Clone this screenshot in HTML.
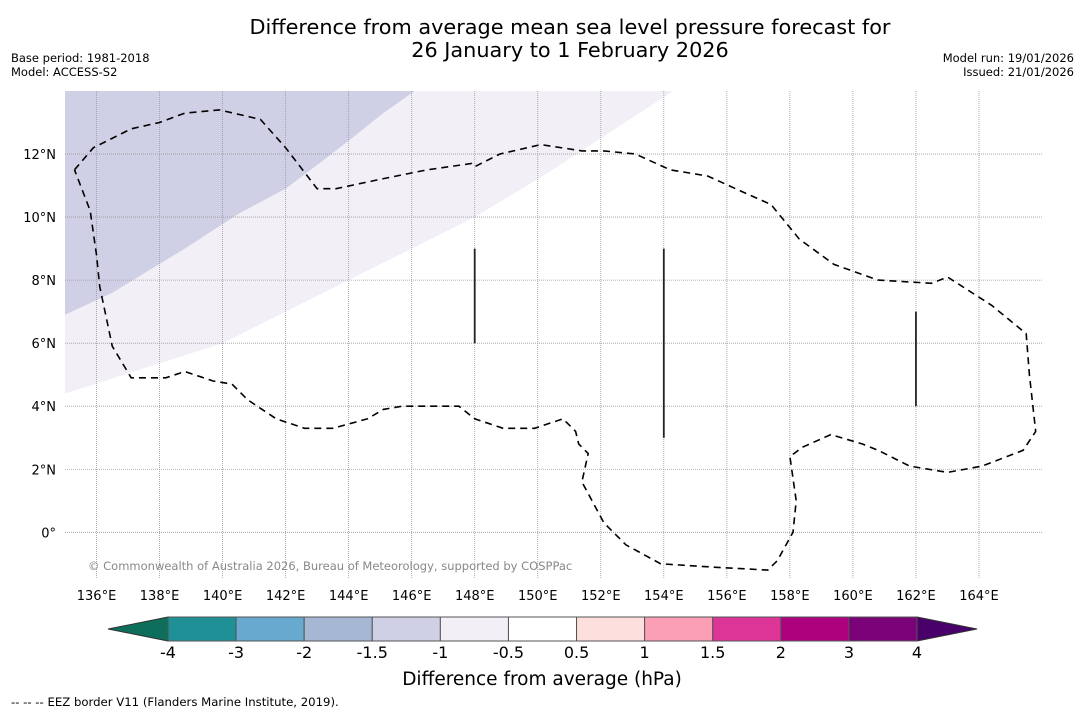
<!DOCTYPE html>
<html><head><meta charset="utf-8"><style>
body{margin:0;background:#fff;width:1085px;height:713px;overflow:hidden;font-family:"DejaVu Sans","Liberation Sans",sans-serif;}
svg text{font-family:"DejaVu Sans","Liberation Sans",sans-serif;}
</style></head><body>
<svg id="c" width="1085" height="713">
<text x="570" y="34" text-anchor="middle" font-size="20.8">Difference from average mean sea level pressure forecast for</text>
<text x="570" y="57" text-anchor="middle" font-size="20.8">26 January to 1 February 2026</text>
<text x="11" y="62" font-size="11.5">Base period: 1981-2018</text>
<text x="11" y="76" font-size="11.5">Model: ACCESS-S2</text>
<text x="1074" y="62" font-size="11.5" text-anchor="end">Model run: 19/01/2026</text>
<text x="1074" y="76" font-size="11.5" text-anchor="end">Issued: 21/01/2026</text>
<defs><clipPath id="mc"><rect x="65" y="91" width="977" height="487"/></clipPath></defs>
<g id="map" clip-path="url(#mc)"></g>
<g id="axes"></g>
<g id="cbar"></g>
<text x="542" y="685" text-anchor="middle" font-size="18.5">Difference from average (hPa)</text>
<text x="11" y="706" font-size="11.7">--  --  -- EEZ border V11 (Flanders Marine Institute, 2019).</text>
</svg>
<script>
const lonTicks=[136,138,140,142,144,146,148,150,152,154,156,158,160,162,164];
const latTicks=[0,2,4,6,8,10,12];
const levels=[-4,-3,-2,-1.5,-1,-0.5,0.5,1,1.5,2,3,4];
const levelLabels=["-4","-3","-2","-1.5","-1","-0.5","0.5","1","1.5","2","3","4"];
const binColors=["#1f9196","#67a9cf","#a6b7d3","#cfd0e5","#f3eff6","#ffffff","#fde0dd","#fa9fb5","#dd3497","#ae017e","#7a0177"];
const underColor="#0d6e5c", overColor="#49006a";
const anomDark=[[135,6.9],[136.5,7.6],[138.8,9.0],[140.5,10.1],[142,10.9],[143.2,11.8],[144.1,12.5],[145.1,13.3],[146.1,14]];
const anomLight=[[135,4.4],[137.5,5.2],[140,6.0],[142,7.0],[144,8.0],[146,9.0],[148,10.0],[150,11.2],[152,12.5],[154.3,14]];
const eez=[[135.3,11.5],[135.9,12.2],[137.1,12.8],[138,13],[138.8,13.3],[139.9,13.4],[141.2,13.1],[142,12.2],[143,10.9],[143.6,10.9],[145,11.2],[146.5,11.5],[147.9,11.7],[148,11.6],[148.8,12],[150.1,12.3],[151.4,12.1],[152.1,12.1],[153.1,12],[154.2,11.5],[155.4,11.3],[156.5,10.8],[157.4,10.4],[158.3,9.3],[159.4,8.5],[160.8,8],[162.5,7.9],[163,8.1],[164.4,7.2],[165.5,6.3],[165.6,5],[165.8,3.2],[165.4,2.6],[164.1,2.1],[163,1.9],[161.8,2.1],[160.8,2.6],[160.3,2.8],[159.3,3.1],[158.4,2.7],[158,2.4],[158.2,1],[158.1,0],[157.6,-0.9],[157.3,-1.2],[155.5,-1.1],[153.9,-1],[152.8,-0.4],[152.1,0.3],[151.4,1.6],[151.6,2.5],[151.3,2.8],[151.2,3.2],[150.8,3.6],[149.9,3.3],[148.9,3.3],[148,3.6],[147.5,4],[146.4,4.0],[145.7,4.0],[145.1,3.9],[144.6,3.6],[143.5,3.3],[142.6,3.3],[141.7,3.6],[140.8,4.2],[140.3,4.7],[139.7,4.8],[138.8,5.1],[138.2,4.9],[137.1,4.9],[136.5,5.9],[136.1,7.8],[136,8.8],[135.8,10.2],[135.3,11.5]];
const meridianSegs=[[148,6,9],[154,3,9],[162,4,7]];

const NS="http://www.w3.org/2000/svg";
const X0=65,X1=1042,Y0=91,Y1=578,LON0=135,LON1=166,LAT0=-1.45,LAT1=14;
function xs(l){return X0+(l-LON0)/(LON1-LON0)*(X1-X0);}
function ys(l){return Y1-(l-LAT0)/(LAT1-LAT0)*(Y1-Y0);}
function mk(t,a,p){const e=document.createElementNS(NS,t);for(const k in a)e.setAttribute(k,a[k]);p.appendChild(e);return e;}
const map=document.getElementById('map'),axes=document.getElementById('axes'),cb=document.getElementById('cbar');
function pts(a){return a.map(p=>xs(p[0]).toFixed(1)+','+ys(p[1]).toFixed(1)).join(' ');}
let p=mk('polygon',{points:pts(anomLight)+` ${xs(LON0)},${ys(LAT1)}`,fill:"#f3eff6"},map);


p=mk('polygon',{points:pts(anomDark)+` ${xs(LON0)},${ys(LAT1)}`,fill:"#cfd0e5"},map);


lonTicks.forEach(l=>{const g=mk('line',{x1:xs(l),x2:xs(l),y1:Y0,y2:Y1,stroke:"#999","stroke-width":0.8,"stroke-dasharray":"1,1"},map);


const t=mk('text',{x:xs(l),y:600,"text-anchor":"middle","font-size":13},axes);t.textContent=l+"°E";

});
latTicks.forEach(l=>{const g=mk('line',{x1:X0,x2:X1,y1:ys(l),y2:ys(l),stroke:"#999","stroke-width":0.8,"stroke-dasharray":"1,1"},map);


const t=mk('text',{x:56,y:ys(l)+5,"text-anchor":"end","font-size":13},axes);t.textContent=l===0?"0°":l+"°N";

});
p=mk('polyline',{points:pts(eez),fill:"none",stroke:"#000","stroke-width":1.6,"stroke-dasharray":"7,5"},map);


meridianSegs.forEach(s=>{const l=mk('line',{x1:xs(s[0]),x2:xs(s[0]),y1:ys(s[2]),y2:ys(s[1]),stroke:"#222","stroke-width":1.8},map);

});
const ct=mk('text',{x:88,y:570,"font-size":11.5,fill:"#888"},map);ct.textContent="© Commonwealth of Australia 2026, Bureau of Meteorology, supported by COSPPac";


const CB0=168,CB1=917,CY=617,CH=24;
const bw=(CB1-CB0)/(levels.length-1);
function cx(i){return CB0+i*bw;}
let tri=mk('polygon',{points:`108,${CY+CH/2} ${CB0},${CY} ${CB0},${CY+CH}`,fill:underColor,stroke:"#333","stroke-width":1},cb);


tri=mk('polygon',{points:`977,${CY+CH/2} ${CB1},${CY} ${CB1},${CY+CH}`,fill:overColor,stroke:"#333","stroke-width":1},cb);


binColors.forEach((c,i)=>{const r=mk('rect',{x:cx(i),y:CY,width:bw,height:CH,fill:c,stroke:"#555","stroke-width":1},cb);

});
levelLabels.forEach((s,i)=>{const t=mk('text',{x:cx(i),y:658,"text-anchor":"middle","font-size":16},cb);t.textContent=s;

});
</script>
</body></html>
